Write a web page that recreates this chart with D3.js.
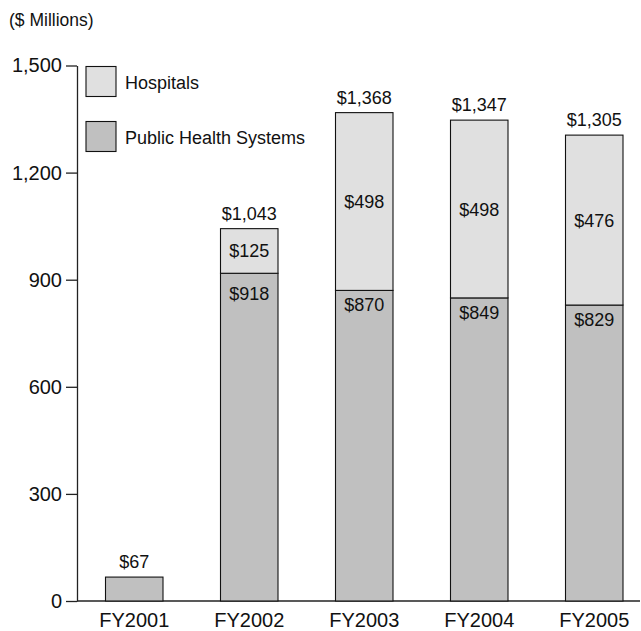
<!DOCTYPE html>
<html>
<head>
<meta charset="utf-8">
<script src="https://cdn.jsdelivr.net/npm/d3@7/dist/d3.min.js"></script>
<style>
  html, body { margin: 0; padding: 0; background: #fff; overflow: hidden; }
  svg { display: block; font-family: "Liberation Sans", Arial, sans-serif; }
</style>
</head>
<body>
<svg id="chart" width="641" height="631"></svg>
<script>
// Funding by fiscal year ($ millions)
const years = ["FY2001", "FY2002", "FY2003", "FY2004", "FY2005"];
const publicHealth = [67, 918, 870, 849, 829];
const hospitals = [0, 125, 498, 498, 476];
const totals = [67, 1043, 1368, 1347, 1305];
const yTicks = [0, 300, 600, 900, 1200, 1500];
const seriesNames = ["Hospitals", "Public Health Systems"];
const seriesColors = ["#e0e0e0", "#c0c0c0"];

const svg = d3.select("#chart");

const y = d3.scaleLinear().domain([0, 1500]).range([601, 65.5]);
const x = d3.scaleBand().domain(years).range([48, 680.5]).padding(0.5);

// Unit note
svg.append("text")
  .attr("x", 9).attr("y", 26)
  .attr("font-size", 17.5)
  .attr("fill", "#111")
  .text("($ Millions)");

// Y axis
const yAxis = svg.append("g")
  .attr("transform", "translate(77,0)")
  .call(d3.axisLeft(y).tickValues(yTicks).tickFormat(d3.format(","))
    .tickSize(11).tickSizeOuter(0).tickPadding(4));
yAxis.selectAll("path, line").attr("stroke", "#222").attr("stroke-width", 1.3);
yAxis.selectAll("text").attr("font-size", 20).attr("fill", "#111")
  .attr("font-family", "Liberation Sans, Arial, sans-serif");

// Baseline
svg.append("line")
  .attr("x1", 77).attr("x2", 640)
  .attr("y1", y(0)).attr("y2", y(0))
  .attr("stroke", "#222").attr("stroke-width", 1.3);

// Stacked bars
const stack = years.map((yr, i) => ({
  year: yr, pub: publicHealth[i], hosp: hospitals[i], total: totals[i]
}));

const g = svg.append("g");
g.selectAll("rect.pub").data(stack).join("rect")
  .attr("class", "pub")
  .attr("x", d => x(d.year)).attr("width", x.bandwidth())
  .attr("y", d => y(d.pub)).attr("height", d => y(0) - y(d.pub))
  .attr("fill", seriesColors[1]).attr("stroke", "#111").attr("stroke-width", 1.1);

g.selectAll("rect.hosp").data(stack.filter(d => d.hosp > 0)).join("rect")
  .attr("class", "hosp")
  .attr("x", d => x(d.year)).attr("width", x.bandwidth())
  .attr("y", d => y(d.pub + d.hosp)).attr("height", d => y(d.pub) - y(d.pub + d.hosp))
  .attr("fill", seriesColors[0]).attr("stroke", "#111").attr("stroke-width", 1.1);

const money = v => "$" + d3.format(",")(v);

// Total labels above each bar
g.selectAll("text.total").data(stack).join("text")
  .attr("class", "total")
  .attr("x", d => x(d.year) + x.bandwidth() / 2)
  .attr("y", d => y(d.total) - 9)
  .attr("text-anchor", "middle").attr("font-size", 18).attr("fill", "#111")
  .text(d => money(d.total));

// Hospital labels centred in their segment
const hospLabelY = d => (y(d.pub) + y(d.pub + d.hosp)) / 2 + 6.5;
g.selectAll("text.hosp").data(stack.filter(d => d.hosp > 0)).join("text")
  .attr("class", "hosp")
  .attr("x", d => x(d.year) + x.bandwidth() / 2)
  .attr("y", hospLabelY)
  .attr("text-anchor", "middle").attr("font-size", 18).attr("fill", "#111")
  .text(d => money(d.hosp));

// Public health labels just inside the top of their segment, kept clear of the label above
g.selectAll("text.pubLabel").data(stack.filter(d => d.hosp > 0)).join("text")
  .attr("class", "pubLabel")
  .attr("x", d => x(d.year) + x.bandwidth() / 2)
  .attr("y", d => Math.max(y(d.pub) + 21, hospLabelY(d) + 43))
  .attr("text-anchor", "middle").attr("font-size", 18).attr("fill", "#111")
  .text(d => money(d.pub));

// X labels
svg.selectAll("text.xlab").data(years).join("text")
  .attr("class", "xlab")
  .attr("x", d => x(d) + x.bandwidth() / 2)
  .attr("y", 627)
  .attr("text-anchor", "middle").attr("font-size", 20).attr("fill", "#111")
  .text(d => d);

// Legend
const legend = svg.append("g");
seriesNames.forEach((name, i) => {
  const row = legend.append("g").attr("transform", `translate(86,${66.5 + i * 55})`);
  row.append("rect").attr("width", 30).attr("height", 30)
    .attr("fill", seriesColors[i]).attr("stroke", "#111").attr("stroke-width", 1.1);
  row.append("text").attr("x", 39).attr("y", 22)
    .attr("font-size", 18).attr("fill", "#111").text(name);
});
</script>
</body>
</html>
